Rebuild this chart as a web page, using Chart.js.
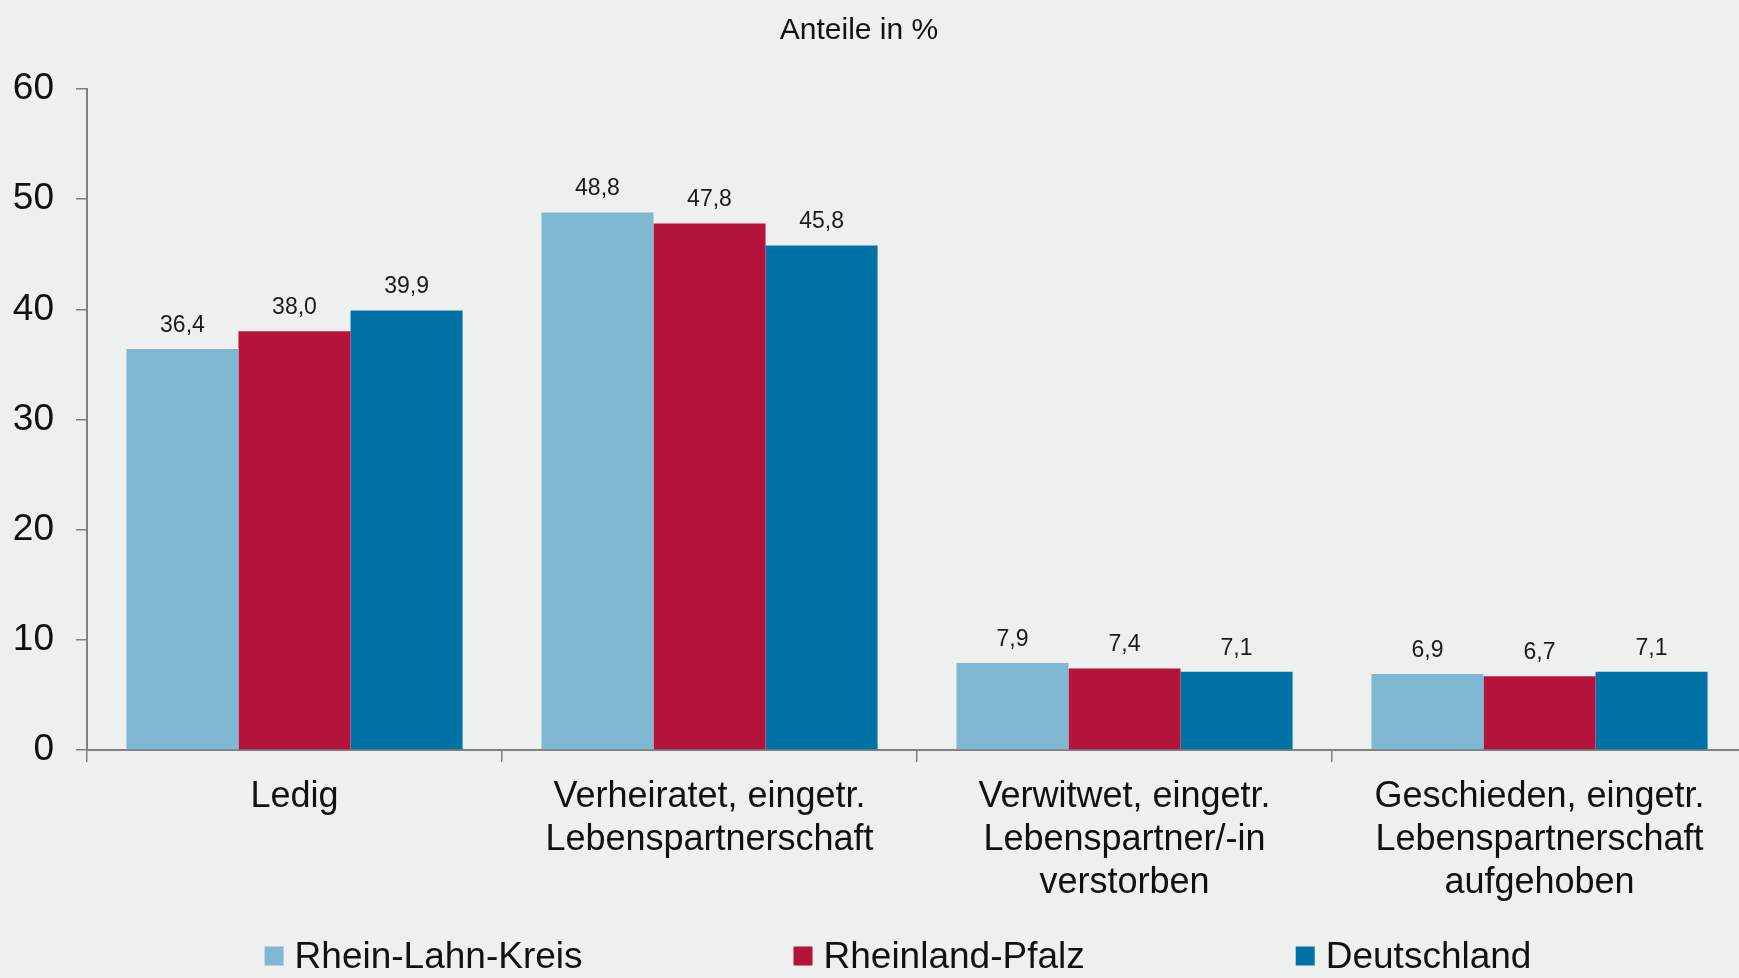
<!DOCTYPE html>
<html>
<head>
<meta charset="utf-8">
<script src="https://cdn.jsdelivr.net/npm/chart.js@4.4.1/dist/chart.umd.min.js"></script>
<style>
  html, body { margin: 0; padding: 0; background: #eef0ef; overflow: hidden; }
  #wrap { width: 1747px; height: 978px; }
</style>
</head>
<body>
<div id="wrap"><canvas id="chart"></canvas></div>
<script>
// Kategorien (Familienstand)
const categories = [
  'Ledig',
  ['Verheiratet, eingetr.', 'Lebenspartnerschaft'],
  ['Verwitwet, eingetr.', 'Lebenspartner/-in', 'verstorben'],
  ['Geschieden, eingetr.', 'Lebenspartnerschaft', 'aufgehoben']
];
const seriesNames = ['Rhein-Lahn-Kreis', 'Rheinland-Pfalz', 'Deutschland'];
const rheinLahnKreis = [36.4, 48.8, 7.9, 6.9];
const rheinlandPfalz = [38.0, 47.8, 7.4, 6.7];
const deutschland = [39.9, 45.8, 7.1, 7.1];
const yTicks = [0, 10, 20, 30, 40, 50, 60];
const colors = ['#80b8d4', '#b4133c', '#0072a5'];
const chartTitle = 'Anteile in %';

const fontFamily = "'Liberation Sans', Arial, sans-serif";
const axisColor = '#808080';

// Titel oben (leicht links von der Mitte wie im Original)
const topTitle = {
  id: 'topTitle',
  afterDraw(chart) {
    const ctx = chart.ctx;
    ctx.save();
    ctx.font = '30px ' + fontFamily;
    ctx.fillStyle = '#111';
    ctx.textAlign = 'center';
    ctx.textBaseline = 'alphabetic';
    ctx.fillText(chartTitle, 859, 39);
    ctx.restore();
  }
};

// Werte über den Balken
const valueLabels = {
  id: 'valueLabels',
  afterDatasetsDraw(chart) {
    const ctx = chart.ctx;
    ctx.save();
    ctx.font = '23px ' + fontFamily;
    ctx.fillStyle = '#1a1a1a';
    ctx.textAlign = 'center';
    ctx.textBaseline = 'alphabetic';
    chart.data.datasets.forEach((ds, i) => {
      chart.getDatasetMeta(i).data.forEach((bar, j) => {
        const txt = ds.data[j].toFixed(1).replace('.', ',');
        ctx.fillText(txt, bar.x, bar.y - 17);
      });
    });
    ctx.restore();
  }
};

// Legende unten, wie im Original mit großen Abständen
const bottomLegend = {
  id: 'bottomLegend',
  afterDraw(chart) {
    const ctx = chart.ctx;
    const box = 19, gapText = 11, gapItem = 211;
    ctx.save();
    ctx.font = '37px ' + fontFamily;
    const widths = chart.data.datasets.map(ds => ctx.measureText(ds.label).width);
    let total = widths.reduce((a, w) => a + box + gapText + w, 0) + gapItem * (widths.length - 1);
    let x = 898 - total / 2;
    const yMid = 956;
    chart.data.datasets.forEach((ds, i) => {
      ctx.fillStyle = ds.backgroundColor;
      ctx.fillRect(x, yMid - box / 2, box, box);
      ctx.fillStyle = '#111';
      ctx.textAlign = 'left';
      ctx.textBaseline = 'alphabetic';
      ctx.fillText(ds.label, x + box + gapText, yMid + 12);
      x += box + gapText + widths[i] + gapItem;
    });
    ctx.restore();
  }
};

new Chart(document.getElementById('chart').getContext('2d'), {
  type: 'bar',
  data: {
    labels: categories,
    datasets: [
      { label: seriesNames[0], data: rheinLahnKreis, backgroundColor: colors[0] },
      { label: seriesNames[1], data: rheinlandPfalz, backgroundColor: colors[1] },
      { label: seriesNames[2], data: deutschland, backgroundColor: colors[2] }
    ].map(ds => Object.assign(ds, { borderWidth: 0, categoryPercentage: 0.81, barPercentage: 1.0 }))
  },
  options: {
    responsive: true,
    maintainAspectRatio: false,
    animation: false,
    layout: { padding: { left: 13, right: 0, top: 89, bottom: 76 } },
    plugins: {
      legend: { display: false },
      tooltip: { enabled: false },
      title: { display: false }
    },
    scales: {
      x: {
        afterFit(scale) { scale.height = 152; },
        grid: {
          display: true,
          drawOnChartArea: false,
          drawTicks: true,
          tickLength: 12,
          color: axisColor,
          lineWidth: 1.5
        },
        border: { display: true, color: axisColor, width: 2 },
        ticks: {
          autoSkip: false,
          maxRotation: 0,
          padding: 13,
          color: '#111',
          font: { family: fontFamily, size: 36, lineHeight: 1.2 }
        }
      },
      y: {
        min: 0,
        max: 60,
        afterFit(scale) { scale.width = 74; },
        afterBuildTicks(scale) {
          scale.ticks = yTicks.map(v => ({ value: v }));
        },
        grid: {
          display: true,
          drawOnChartArea: false,
          drawTicks: true,
          tickLength: 11,
          color: axisColor,
          lineWidth: 1.5
        },
        border: { display: true, color: axisColor, width: 2 },
        ticks: {
          padding: 22,
          color: '#111',
          font: { family: fontFamily, size: 37 }
        }
      }
    }
  },
  plugins: [valueLabels, bottomLegend, topTitle]
});
</script>
</body>
</html>
